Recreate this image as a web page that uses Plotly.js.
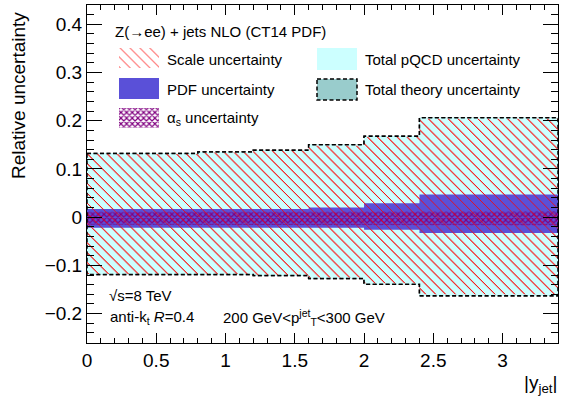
<!DOCTYPE html>
<html><head><meta charset="utf-8">
<script src="https://cdn.plot.ly/plotly-3.0.1.min.js"></script>
<style>html,body{margin:0;padding:0;background:#fff}</style>
</head><body><div id="chart" style="width:563px;height:412px"></div>
<script>
// ---- data ----
const binEdges   = [0, 0.4, 0.8, 1.2, 1.6, 2.0, 2.4, 3.4];
const theoryUp   = [0.132, 0.132, 0.135, 0.139, 0.150, 0.168, 0.206];
const theoryDown = [-0.119, -0.119, -0.119, -0.121, -0.127, -0.139, -0.163];
const pqcdUp     = [0.132, 0.132, 0.135, 0.139, 0.150, 0.168, 0.206];
const pqcdDown   = [-0.119, -0.119, -0.119, -0.121, -0.127, -0.139, -0.163];
const scaleUp    = [0.131, 0.131, 0.134, 0.138, 0.148, 0.166, 0.204];
const scaleDown  = [-0.118, -0.118, -0.118, -0.120, -0.125, -0.137, -0.160];
const pdfUp      = [0.017, 0.017, 0.017, 0.017, 0.020, 0.029, 0.047];
const pdfDown    = [-0.022, -0.022, -0.022, -0.022, -0.022, -0.026, -0.033];
const asUp       = [0.011, 0.011, 0.011, 0.011, 0.011, 0.011, 0.012];
const asDown     = [-0.016, -0.016, -0.016, -0.016, -0.016, -0.016, -0.017];
const legendLabels = ["Scale uncertainty", "PDF uncertainty", "α<sub>s</sub> uncertainty",
                      "Total pQCD uncertainty", "Total theory uncertainty"];

// ---- colours ----
const cCyan = '#ccffff', cTeal = '#99cccc', cPdf = '#5a50d8', cRed = '#ff0000', cPurple = '#800080';
const FONT = 'Liberation Sans, Arial, Helvetica, sans-serif';

// build a closed step band polygon from bin edges and up/down arrays
function band(up, dn) {
  const xs = [], ys = [];
  for (let i = 0; i < up.length; i++) { xs.push(binEdges[i], binEdges[i+1]); ys.push(up[i], up[i]); }
  for (let i = dn.length - 1; i >= 0; i--) { xs.push(binEdges[i+1], binEdges[i]); ys.push(dn[i], dn[i]); }
  xs.push(xs[0]); ys.push(ys[0]);
  return {x: xs, y: ys};
}
const noLine = {width: 0, color: 'rgba(0,0,0,0)'};
const dashLine = {color: 'black', width: 1.5, dash: '4px,2.5px'};
const scalePat = {shape: '\\', fgcolor: cRed, bgcolor: 'rgba(0,0,0,0)', size: 7, solidity: 0.12, fillmode: 'replace'};
const asPat = {shape: 'x', fgcolor: cPurple, bgcolor: 'rgba(0,0,0,0)', size: 4, solidity: 0.5, fillmode: 'replace'};

const traces = [];
const th = band(theoryUp, theoryDown);
traces.push({x: th.x, y: th.y, type: 'scatter', mode: 'lines', fill: 'toself', fillcolor: cTeal, line: dashLine, name: legendLabels[4]});
const pq = band(pqcdUp, pqcdDown);
traces.push({x: pq.x, y: pq.y, type: 'scatter', mode: 'lines', fill: 'toself', fillcolor: cCyan, line: noLine, name: legendLabels[3]});
const sc = band(scaleUp, scaleDown);
traces.push({x: sc.x, y: sc.y, type: 'scatter', mode: 'lines', fill: 'toself', fillcolor: 'rgba(0,0,0,0)', fillpattern: scalePat, line: noLine, name: legendLabels[0]});
const pd = band(pdfUp, pdfDown);
traces.push({x: pd.x, y: pd.y, type: 'scatter', mode: 'lines', fill: 'toself', fillcolor: cPdf, line: noLine, name: legendLabels[1]});
const as = band(asUp, asDown);
traces.push({x: as.x, y: as.y, type: 'scatter', mode: 'lines', fill: 'toself', fillcolor: 'rgba(0,0,0,0)', fillpattern: asPat, line: noLine, name: 'alpha_s uncertainty'});
// the hatching also runs across the pdf band
traces.push({x: sc.x, y: sc.y, type: 'scatter', mode: 'lines', fill: 'toself', fillcolor: 'rgba(0,0,0,0)', fillpattern: scalePat, line: noLine, showlegend: false});
// dashed outline on top
traces.push({x: th.x, y: th.y, type: 'scatter', mode: 'lines', line: dashLine, showlegend: false});

// ---- hand-made legend on an overlay axis in pixel-like units ----
const L = 87, R = 558, T = 5, B = 343;
const pu = px => (px - L) / (R - L);
const pv = py => (B - py) / (B - T);
function box(x0, y0, x1, y1) {
  return {x: [pu(x0), pu(x1), pu(x1), pu(x0), pu(x0)], y: [pv(y0), pv(y0), pv(y1), pv(y1), pv(y0)]};
}
const legBoxes = [
  [box(119, 48, 159, 68), {fillcolor: 'rgba(0,0,0,0)', fillpattern: scalePat, line: noLine}],
  [box(119, 78, 159, 99), {fillcolor: cPdf, line: noLine}],
  [box(119, 108, 159, 128), {fillcolor: 'rgba(0,0,0,0)', fillpattern: asPat, line: noLine}],
  [box(317, 48, 357, 70), {fillcolor: cCyan, line: noLine}],
  [box(317, 79, 357, 100), {fillcolor: cTeal, line: dashLine}]
];
legBoxes.forEach(([b, st]) => {
  traces.push(Object.assign({x: b.x, y: b.y, type: 'scatter', mode: 'lines', fill: 'toself', xaxis: 'x2', yaxis: 'y2', showlegend: false, hoverinfo: 'skip'}, st));
});

const ann = [];
function txt(text, px, py, opts) {
  ann.push(Object.assign({text: text, x: pu(px), y: pv(py), xref: 'paper', yref: 'paper', showarrow: false,
    xanchor: 'left', yanchor: 'middle', font: {family: FONT, size: 15, color: 'black'}}, opts || {}));
}
txt('Z(→ee) + jets NLO (CT14 PDF)', 113, 32);
txt(legendLabels[0], 165, 59);
txt(legendLabels[1], 165, 89);
txt(legendLabels[2], 165, 118);
txt(legendLabels[3], 363, 59);
txt(legendLabels[4], 363, 89);
txt('√s=8 TeV', 107, 295);
txt('anti-k<sub>t</sub> <i>R</i>=0.4', 108, 317);
txt('200 GeV&lt;p<sup>jet</sup><sub>T</sub>&lt;300 GeV', 221, 317);
txt('Relative uncertainty', 18, 96, {textangle: -90, xanchor: 'center', font: {family: FONT, size: 19, color: 'black'}});
txt('|y<sub>jet</sub>|', 559, 384, {xanchor: 'right', font: {family: FONT, size: 19, color: 'black'}});

const axCommon = {showgrid: false, zeroline: false, showline: true, linecolor: 'black', linewidth: 1,
  mirror: 'allticks', ticks: 'inside', tickcolor: 'black', tickwidth: 1,
  tickfont: {family: FONT, size: 19, color: 'black'}};
const layout = {
  width: 563, height: 412, margin: {l: 87, r: 5, t: 5, b: 69},
  paper_bgcolor: 'white', plot_bgcolor: 'white', showlegend: false, hovermode: false,
  xaxis: Object.assign({}, axCommon, {range: [0, 3.4], tick0: 0, dtick: 0.5, ticklen: 10,
    minor: {dtick: 0.1, ticklen: 5, ticks: 'inside', tickcolor: 'black'}}),
  yaxis: Object.assign({}, axCommon, {range: [-0.261, 0.44], tick0: 0, dtick: 0.1, ticklen: 15,
    minor: {dtick: 0.02, ticklen: 7, ticks: 'inside', tickcolor: 'black'}}),
  xaxis2: {overlaying: 'x', anchor: 'y2', range: [0, 1], visible: false, fixedrange: true},
  yaxis2: {overlaying: 'y', anchor: 'x2', range: [0, 1], visible: false, fixedrange: true},
  annotations: ann
};
Plotly.newPlot('chart', traces, layout, {displayModeBar: false, staticPlot: true});
</script></body></html>
